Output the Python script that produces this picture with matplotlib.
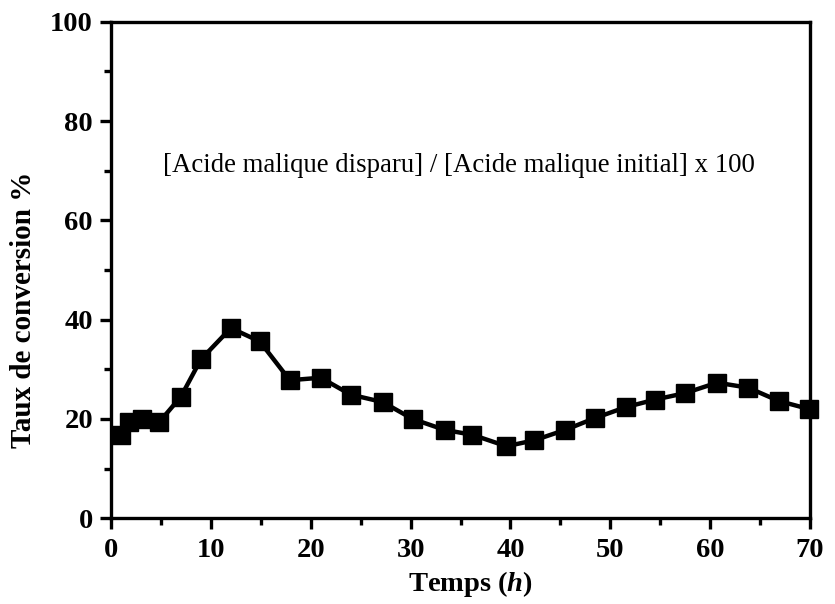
import matplotlib.pyplot as plt
from matplotlib.ticker import MultipleLocator

# Données
temps = [1.0, 1.8, 3.1, 4.8, 7.0, 9.0, 12.0, 14.9, 17.9, 21.0, 24.0, 27.2, 30.2,
         33.4, 36.2, 39.6, 42.4, 45.5, 48.5, 51.6, 54.5, 57.5, 60.7, 63.8, 66.9, 69.9]
conversion = [16.8, 19.4, 20.0, 19.3, 24.5, 32.0, 38.3, 35.6, 27.8, 28.3, 24.9, 23.4, 20.0,
              17.8, 16.8, 14.5, 15.7, 17.8, 20.2, 22.4, 23.9, 25.2, 27.3, 26.3, 23.6, 22.0]

plt.rcParams['font.family'] = ['Liberation Serif', 'DejaVu Serif']
plt.rcParams['mathtext.fontset'] = 'custom'
plt.rcParams['mathtext.it'] = 'Liberation Serif:italic:bold'

fig = plt.figure(figsize=(8.35, 6.04), dpi=100)
ax = fig.add_axes([0.133, 0.142, 0.837, 0.822])

ax.plot(temps, conversion, color="black", linewidth=3.2,
        marker="s", markersize=13, clip_on=False)

ax.set_xlim(0, 70)
ax.set_ylim(0, 100)
ax.xaxis.set_major_locator(MultipleLocator(10))
ax.xaxis.set_minor_locator(MultipleLocator(5))
ax.yaxis.set_major_locator(MultipleLocator(20))
ax.yaxis.set_minor_locator(MultipleLocator(10))

for s in ax.spines.values():
    s.set_linewidth(2.4)
ax.tick_params(which="major", direction="out", length=8, width=2.4,
               labelsize=20.5, pad=5)
ax.tick_params(axis="x", which="major", pad=6)
ax.tick_params(which="minor", direction="out", length=5, width=2.4)
for lab in ax.get_xticklabels() + ax.get_yticklabels():
    lab.set_fontweight("bold")

ax.set_xlabel("Temps ($h$)", fontsize=20.5, fontweight="bold")
ax.set_ylabel("Taux de conversion %", fontsize=21, fontweight="bold")
ax.xaxis.set_label_coords(0.514, -0.103)
ax.yaxis.set_label_coords(-0.106, 0.42)

ax.text(5.2, 71, "[Acide malique disparu] / [Acide malique initial] x 100",
        fontsize=19.3, va="center", ha="left")

fig.savefig("out.png", dpi=100)
